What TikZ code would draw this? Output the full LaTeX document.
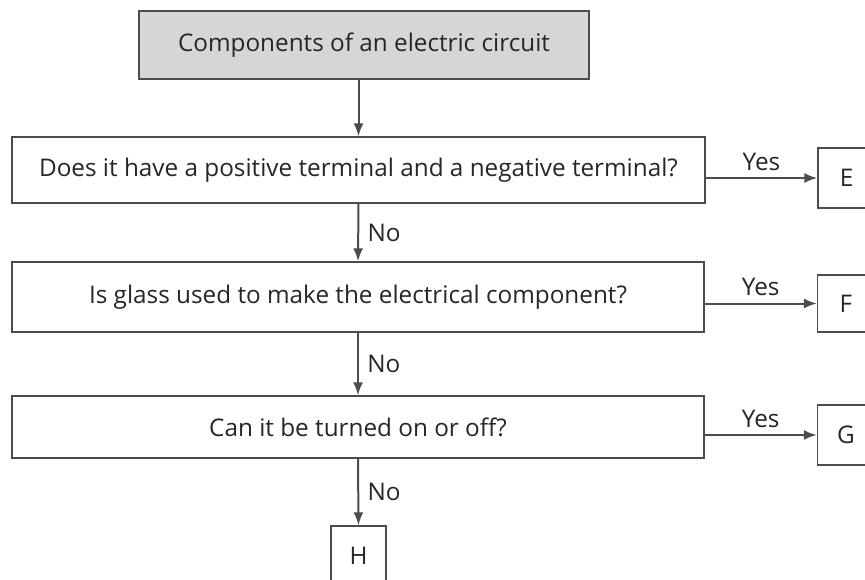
\documentclass[tikz,border=0pt]{standalone}
\usepackage{fontspec}
\setmainfont{Open Sans}
\usetikzlibrary{arrows.meta}
\tikzset{
  qbox/.style={draw=black!70,line width=1.4pt,fill=white,inner sep=0pt,
    text=black!85,font=\fontsize{24.3}{28}\selectfont},
  leafbox/.style={qbox,minimum width=57pt,minimum height=60pt},
  flowarrow/.style={black!70,line width=2pt,-{Latex[length=13pt,width=10pt]}},
  answer/.style={text=black!85,font=\fontsize{24.3}{28}\selectfont}
}
\begin{document}
\begin{tikzpicture}[x=1pt,y=-1pt]
\useasboundingbox (0,0) rectangle (865,580);
\clip (0,0) rectangle (865,580);
% question boxes
\node[qbox,fill=black!16,minimum width=450pt,minimum height=68pt] (title) at (364,45)
  {Components of an electric circuit};
\node[qbox,minimum width=693pt,minimum height=66pt] (q1) at (358.5,170)
  {Does it have a positive terminal and a negative terminal?};
\node[qbox,minimum width=692pt,minimum height=70pt] (q2) at (358,297)
  {Is glass used to make the electrical component?};
\node[qbox,minimum width=692pt,minimum height=62pt] (q3) at (358,427)
  {Can it be turned on or off?};
% end boxes
\node[leafbox] (e) at (846.5,178) {E};
\node[leafbox,minimum height=57pt] (f) at (846,303.5) {F};
\node[leafbox] (g) at (846,435) {G};
\node[leafbox,minimum width=55pt] (h) at (358.5,556) {H};
% arrows
\draw[flowarrow] (title.south -| q1.north) -- (q1.north);
\draw[flowarrow] (q1.south) -- (q2.north) node[midway,right=5pt,answer] {No};
\draw[flowarrow] (q2.south) -- (q3.north) node[midway,right=5pt,answer] {No};
\draw[flowarrow] (q3.south) -- (h.north) node[midway,right=5pt,answer] {No};
\draw[flowarrow] (q1.east |- e.west) -- (e.west) node[midway,above=3pt,answer] {Yes};
\draw[flowarrow] (q2.east |- f.west) -- (f.west) node[midway,above=3pt,answer] {Yes};
\draw[flowarrow] (q3.east |- g.west) -- (g.west) node[midway,above=3pt,answer] {Yes};
\end{tikzpicture}
\end{document}
